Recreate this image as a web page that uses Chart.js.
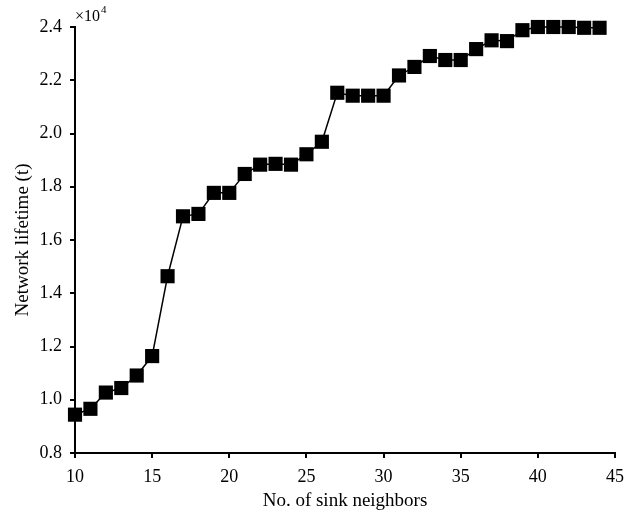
<!DOCTYPE html>
<html>
<head>
<meta charset="utf-8">
<script src="https://cdn.jsdelivr.net/npm/chart.js@4/dist/chart.umd.min.js"></script>
<style>
  html, body { margin: 0; padding: 0; background: #fff; }
  #wrap { width: 626px; height: 516px; }
</style>
</head>
<body>
<div id="wrap"><canvas id="lifetime"></canvas></div>
<script>
// sink neighbour counts and the measured network lifetime for each
const neighbors = [10, 11, 12, 13, 14, 15, 16, 17, 18, 19, 20, 21, 22, 23, 24, 25, 26,
  27, 28, 29, 30, 31, 32, 33, 34, 35, 36, 37, 38, 39, 40, 41, 42, 43, 44];
const lifetime = [9440, 9660, 10270, 10440, 10910, 11640, 14640, 16890, 16980, 17770, 17770,
  18480, 18830, 18860, 18830, 19220, 19690, 21530, 21420, 21420, 21420, 22180, 22500,
  22910, 22760, 22760, 23170, 23500, 23470, 23880, 24000, 24000, 24000, 23970, 23970];
const xTicks = [10, 15, 20, 25, 30, 35, 40, 45];
const yTicks = [8000, 10000, 12000, 14000, 16000, 18000, 20000, 22000, 24000];

const serif = '"Liberation Serif", "Times New Roman", serif';

// draws the "×10^4" multiplier above the y axis
const exponentLabel = {
  id: 'exponentLabel',
  afterDraw(chart) {
    const ctx = chart.ctx;
    const x = chart.chartArea.left;
    const y = chart.chartArea.top - 6;
    ctx.save();
    ctx.fillStyle = '#000';
    ctx.textBaseline = 'alphabetic';
    ctx.font = '16px ' + serif;
    ctx.fillText('×10', x, y);
    const w = ctx.measureText('×10').width;
    ctx.font = '11px ' + serif;
    ctx.fillText('4', x + w + 1, y - 8);
    ctx.restore();
  }
};

const axisStyle = {
  grid: { display: true, drawOnChartArea: false, drawTicks: true, tickLength: 5, color: '#000', lineWidth: 2 },
  border: { display: true, color: '#000', width: 2 }
};

new Chart(document.getElementById('lifetime').getContext('2d'), {
  type: 'line',
  data: {
    datasets: [{
      data: neighbors.map((n, i) => ({ x: n, y: lifetime[i] })),
      borderColor: '#000',
      borderWidth: 1.5,
      backgroundColor: '#000',
      pointStyle: 'rect',
      pointRadius: 10,
      pointBorderWidth: 0,
      pointBackgroundColor: '#000',
      tension: 0,
      clip: false
    }]
  },
  options: {
    responsive: true,
    maintainAspectRatio: false,
    animation: false,
    events: [],
    layout: { padding: { top: 27, right: 11, left: 0, bottom: 0 } },
    plugins: { legend: { display: false }, tooltip: { enabled: false } },
    scales: {
      x: {
        type: 'linear',
        min: 10,
        max: 45,
        ...axisStyle,
        afterBuildTicks(scale) { scale.ticks = xTicks.map(v => ({ value: v })); },
        afterFit(scale) {
          scale.height = 63;
          scale.paddingLeft = 0;
          scale.paddingRight = 0;
        },
        ticks: { color: '#000', font: { family: serif, size: 18 }, padding: 8, maxRotation: 0 },
        title: { display: true, text: 'No. of sink neighbors', color: '#000', font: { family: serif, size: 19 }, padding: { top: 4 } }
      },
      y: {
        min: 8000,
        max: 24000,
        ...axisStyle,
        afterBuildTicks(scale) { scale.ticks = yTicks.map(v => ({ value: v })); },
        afterFit(scale) { scale.width = 75; },
        ticks: { color: '#000', font: { family: serif, size: 18 }, padding: 8, callback: v => (v / 10000).toFixed(1) },
        title: { display: true, text: 'Network lifetime (t)', color: '#000', font: { family: serif, size: 19 }, padding: { top: 12 } }
      }
    }
  },
  plugins: [exponentLabel]
});
</script>
</body>
</html>
